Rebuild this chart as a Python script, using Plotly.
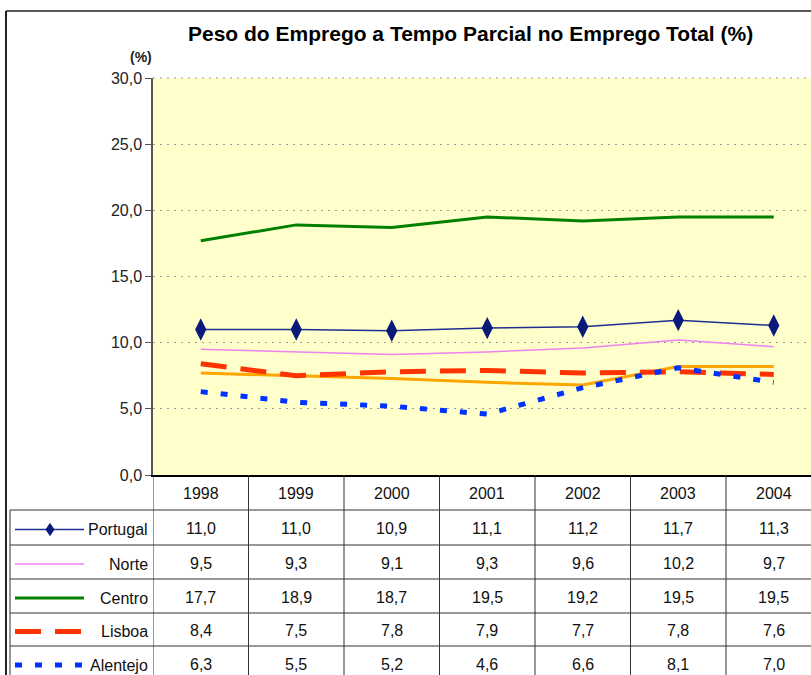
"""
Peso do Emprego a Tempo Parcial no Emprego Total - line chart with data table.
"""
import plotly.graph_objects as go

# Data
years = [1998, 1999, 2000, 2001, 2002, 2003, 2004]
portugal = [11.0, 11.0, 10.9, 11.1, 11.2, 11.7, 11.3]
norte = [9.5, 9.3, 9.1, 9.3, 9.6, 10.2, 9.7]
centro = [17.7, 18.9, 18.7, 19.5, 19.2, 19.5, 19.5]
lisboa = [8.4, 7.5, 7.8, 7.9, 7.7, 7.8, 7.6]
alentejo = [6.3, 5.5, 5.2, 4.6, 6.6, 8.1, 7.0]
# row cut off below the visible table
algarve = [7.7, 7.5, 7.3, 7.0, 6.8, 8.2, 8.2]
y_ticks = [0, 5, 10, 15, 20, 25, 30]

FONT = "Liberation Sans, Arial, sans-serif"

W, H = 811, 675
L, T, B = 153, 78, 475  # plot area in pixels
COL_W = 95.5            # width of one year column


def px(x):
    return (x - L) / (W - L)


def py(y):
    return (B - y) / (B - T)


series = [
    dict(name="Portugal", y=portugal, color="#1F2F8F", width=1.5, dash="solid", marker=True),
    dict(name="Norte", y=norte, color="#EE82EE", width=1.5, dash="solid", marker=False),
    dict(name="Centro", y=centro, color="#008000", width=3, dash="solid", marker=False),
    dict(name="Lisboa", y=lisboa, color="#FF3300", width=5, dash="26px,14px", marker=False),
    dict(name="Alentejo", y=alentejo, color="#0033FF", width=5, dash="7px,13px", marker=False),
]

fig = go.Figure()

for s in series[:3]:
    fig.add_trace(go.Scatter(
        x=years, y=s["y"], name=s["name"], mode="lines+markers" if s["marker"] else "lines",
        line=dict(color=s["color"], width=s["width"], dash=s["dash"]),
        marker=dict(symbol="diamond-tall", size=16, color="#0A1A7A"),
    ))

fig.add_trace(go.Scatter(
    x=years, y=algarve, name="Algarve", mode="lines",
    line=dict(color="#FFA500", width=3),
))

for s in series[3:]:
    fig.add_trace(go.Scatter(
        x=years, y=s["y"], name=s["name"], mode="lines",
        line=dict(color=s["color"], width=s["width"], dash=s["dash"]),
    ))

shapes = []
annotations = []

# Outer chart border
shapes.append(dict(type="line", xref="paper", yref="paper", x0=px(6), x1=px(W + 5),
                   y0=py(11), y1=py(11), line=dict(color="#222", width=1.5)))
shapes.append(dict(type="line", xref="paper", yref="paper", x0=px(6), x1=px(6),
                   y0=py(11), y1=py(H + 5), line=dict(color="#222", width=2)))
# top of plot area
shapes.append(dict(type="line", xref="paper", yref="paper", x0=0, x1=1, y0=1, y1=1,
                   line=dict(color="#999", width=1, dash="2px,5px")))

# Data table grid
row_edges = [510, 545, 579, 613, 646, 680]
for ry in row_edges[:-1]:
    shapes.append(dict(type="line", xref="paper", yref="paper", x0=px(10), x1=px(W + 5),
                       y0=py(ry), y1=py(ry), line=dict(color="#333", width=1)))
shapes.append(dict(type="line", xref="paper", yref="paper", x0=px(10), x1=px(10),
                   y0=py(510), y1=py(H + 5), line=dict(color="#333", width=1)))
for yr in years + [years[-1] + 1]:
    shapes.append(dict(type="line", xref="x", yref="paper", x0=yr - 0.5, x1=yr - 0.5,
                       y0=0, y1=py(H + 5), line=dict(color="#333", width=1)))

# Header years
for yr in years:
    annotations.append(dict(x=yr, y=py(493), xref="x", yref="paper", text=str(yr),
                            xanchor="center", yanchor="middle", showarrow=False,
                            font=dict(family=FONT, size=16, color="#111")))

# Rows: legend key + label + values
for k, s in enumerate(series):
    cy = (row_edges[k] + row_edges[k + 1]) / 2 + 2
    annotations.append(dict(x=px(150), y=py(cy), xref="paper", yref="paper", text=s["name"],
                            xanchor="right", yanchor="middle", showarrow=False,
                            font=dict(family=FONT, size=16, color="#111")))
    shapes.append(dict(type="line", xref="paper", yref="paper", x0=px(15), x1=px(84),
                       y0=py(cy), y1=py(cy),
                       line=dict(color=s["color"], width=s["width"], dash=s["dash"])))
    if s["marker"]:
        mx, my = 50, cy
        path = "M {},{} L {},{} L {},{} L {},{} Z".format(
            px(mx), py(my - 6), px(mx + 4), py(my), px(mx), py(my + 6), px(mx - 4), py(my))
        shapes.append(dict(type="path", xref="paper", yref="paper", path=path,
                           fillcolor="#0A1A7A", line=dict(color="#0A1A7A", width=1)))
    for yr, v in zip(years, s["y"]):
        annotations.append(dict(x=yr, y=py(cy - 1), xref="x", yref="paper",
                                text=f"{v:.1f}".replace(".", ","),
                                xanchor="center", yanchor="middle", showarrow=False,
                                font=dict(family=FONT, size=16, color="#111")))

# Title and unit label
annotations.append(dict(x=px(470), y=py(33), xref="paper", yref="paper",
                        text="<b>Peso do Emprego a Tempo Parcial no Emprego Total (%)</b>",
                        xanchor="center", yanchor="middle", showarrow=False,
                        font=dict(family=FONT, size=21, color="#000")))
annotations.append(dict(x=px(141), y=py(57), xref="paper", yref="paper", text="<b>(%)</b>",
                        xanchor="center", yanchor="middle", showarrow=False,
                        font=dict(family=FONT, size=14, color="#222")))

fig.update_layout(
    width=W, height=H,
    margin=dict(l=L, r=0, t=T, b=H - B, pad=0),
    paper_bgcolor="white",
    plot_bgcolor="#FFFFCC",
    showlegend=False,
    separators=",.",
    shapes=shapes,
    annotations=annotations,
    xaxis=dict(
        range=[years[0] - 0.5, years[0] - 0.5 + (W - L) / COL_W],
        showticklabels=False, showgrid=False, zeroline=False,
        showline=True, linecolor="black", linewidth=2, fixedrange=True,
    ),
    yaxis=dict(
        range=[0, 30], tickvals=y_ticks, tickformat=".1f",
        tickfont=dict(family=FONT, size=16, color="#222"),
        ticks="outside", ticklen=6, tickcolor="#555",
        showline=True, linecolor="#555", linewidth=1.5,
        showgrid=True, gridcolor="#999", griddash="2px,5px", gridwidth=1,
        zeroline=False, fixedrange=True,
    ),
)

# drop the default page margin so the figure sits at the window origin
fig.write_html("out.html", config={"displayModeBar": False},
               post_script="document.body.style.margin = '0';")
